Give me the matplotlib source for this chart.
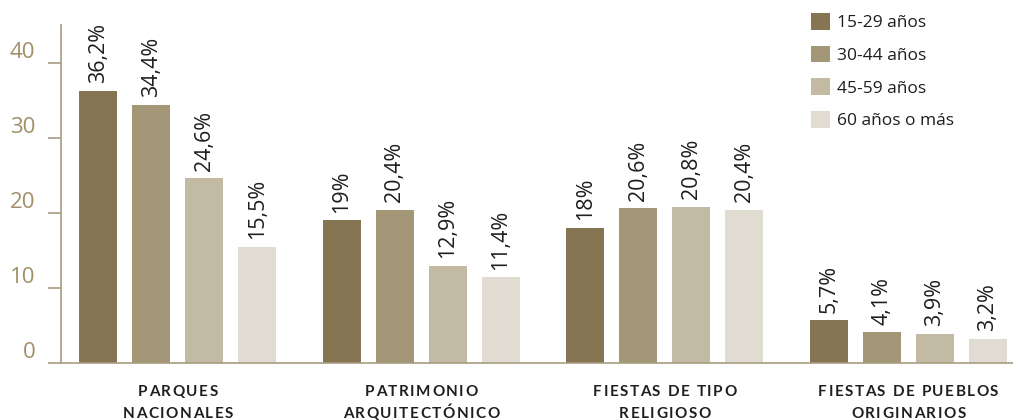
import matplotlib
matplotlib.use('Agg')
import matplotlib.pyplot as plt
from matplotlib.font_manager import FontProperties
from matplotlib.transforms import IdentityTransform
import numpy as np

# data
categories = [['PARQUES', 'NACIONALES'],
              ['PATRIMONIO', 'ARQUITECTÓNICO'],
              ['FIESTAS DE TIPO', 'RELIGIOSO'],
              ['FIESTAS DE PUEBLOS', 'ORIGINARIOS']]
series_names = ['15-29 años', '30-44 años', '45-59 años', '60 años o más']
v_15_29 = [36.2, 19.0, 18.0, 5.7]
v_30_44 = [34.4, 20.4, 20.6, 4.1]
v_45_59 = [24.6, 12.9, 20.8, 3.9]
v_60_mas = [15.5, 11.4, 20.4, 3.2]
yticks = [0, 10, 20, 30, 40]

colors = ['#857552', '#a39778', '#c3baa4', '#e0dcd1']
axis_col = '#a89c80'
tick_col = '#a08f69'
text_col = '#1e1e1e'
FONT = 'Open Sans'

W, H = 1013, 420
fig = plt.figure(figsize=(W / 100, H / 100), dpi=100)
ax = fig.add_axes([61 / W, 1 - 363 / H, (W - 61) / W, 338 / H])

x = np.arange(len(categories))
step = 0.2177
width = 0.156
series = [v_15_29, v_30_44, v_45_59, v_60_mas]
bars = []
for i, vals in enumerate(series):
    b = ax.bar(x + (i - 1.5) * step, vals, width, color=colors[i], label=series_names[i], zorder=2)
    bars.append(b)
    for xi, v in zip(x + (i - 1.5) * step, vals):
        lbl = f"{v:g}".replace('.', ',') + '%'
        ax.annotate(lbl, (xi, v), xytext=(0, 5.5), textcoords='offset points',
                    rotation=90, ha='center', va='bottom', fontsize=15.5,
                    family=FONT, color=text_col)

ax.set_xlim(-0.48, 3.43)
ax.set_ylim(0, 45)
ax.set_yticks(yticks)
ax.set_xticks([])
for s in ['top', 'right']:
    ax.spines[s].set_visible(False)
for s in ['left', 'bottom']:
    ax.spines[s].set_color(axis_col)
    ax.spines[s].set_linewidth(1.2)
ax.tick_params(axis='y', length=9.4, width=1.2, color=axis_col, pad=9.0,
               labelsize=16, labelcolor=tick_col)
for t in ax.get_yticklabels():
    t.set_family(FONT)
    t.set_va('bottom')

leg = ax.legend(handles=bars, labels=series_names, loc='upper left',
                bbox_to_anchor=(811 / W, 1 - 13 / H), bbox_transform=fig.transFigure,
                frameon=False, handlelength=1.1, handleheight=1.1,
                handletextpad=0.4, labelspacing=0.83, borderpad=0, borderaxespad=0,
                prop={'family': FONT, 'size': 12.5})
for t in leg.get_texts():
    t.set_color(text_col)

# category labels, spaced out letter by letter
renderer = fig.canvas.get_renderer()
fp = FontProperties(family='Lato', weight='bold', size=11)


def spaced_text(xc, y, s, spacing):
    widths = []
    for ch in s:
        if ch == ' ':
            widths.append(4.0)
        else:
            w, h, d = renderer.get_text_width_height_descent(ch, fp, ismath=False)
            widths.append(w)
    total = sum(widths) + spacing * (len(s) - 1)
    xx = xc - total / 2
    for ch, w in zip(s, widths):
        if ch != ' ':
            fig.text(xx, y, ch, transform=IdentityTransform(), fontproperties=fp,
                     ha='left', va='baseline', color=text_col)
        xx += w + spacing


for xi, lines in zip(x, categories):
    xc = ax.transData.transform((xi, 0))[0]
    spaced_text(xc, H - 396, lines[0], 1.5)
    spaced_text(xc, H - 418, lines[1], 1.5)

fig.savefig('out.png', dpi=100)
